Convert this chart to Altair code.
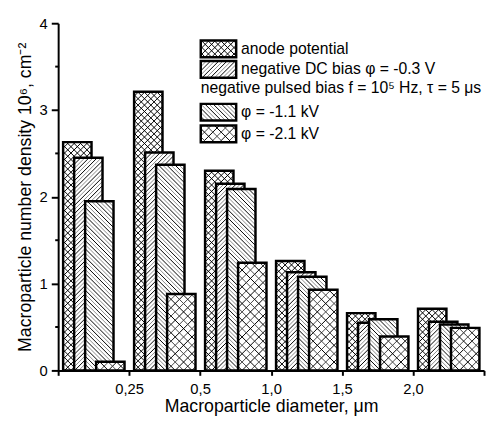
import math
import altair as alt
import pandas as pd

# ---------------- data ----------------
tick_labels = ["0,25", "0,5", "1,0", "1,5", "2,0"]
series_names = [
    "anode potential",
    "negative DC bias φ = -0.3 V",
    "φ = -1.1 kV",
    "φ = -2.1 kV",
]
anode = [2.63, 3.21, 2.30, 1.26, 0.66, 0.71]
dc_bias = [2.45, 2.51, 2.15, 1.13, 0.55, 0.56]
pulsed_11 = [1.95, 2.37, 2.09, 1.08, 0.59, 0.53]
pulsed_21 = [0.10, 0.88, 1.24, 0.93, 0.39, 0.49]
pulsed_header = "negative pulsed bias f = 10⁵ Hz, τ = 5 μs"
x_title = "Macroparticle diameter, μm"
y_title = "Macroparticle number density 10⁶, cm⁻²"
y_major = [0, 1, 2, 3, 4]
y_minor = [0.5, 1.5, 2.5, 3.5]

series_values = [anode, dc_bias, pulsed_11, pulsed_21]

# ---------------- layout / style ----------------
FONT = "Liberation Sans"
W, H = 433, 353
XMAX, YMAX = 6, 4
PX_X = W / XMAX
PX_Y = H / YMAX
PLOT_LEFT, PLOT_BOTTOM = 59, 373          # page pixels of plot origin
BAR_LEFT, BAR_W, BAR_STEP = 0.07, 0.4, 0.155
GRAY = "#8c8c8c"

# hatch styles per series: list of (direction, spacing px, colours)
hatches = [
    [("/", 6.5, ["black"]), ("\\", 6.5, ["black"])],
    [("/", 4.2, ["black", GRAY])],
    [("\\", 4.2, ["black", GRAY])],
    [("/", 8.5, ["black", "#444"]), ("\\", 8.5, ["black", "#444"])],
]


def hatch_segments(x0, x1, y0, y1, styles):
    """Hatch lines clipped to a data-space rectangle, 45deg in screen space."""
    u0, u1 = x0 * PX_X, x1 * PX_X
    v0, v1 = y0 * PX_Y, y1 * PX_Y
    rows = []
    for direction, step, colors in styles:
        if direction == "/":
            kmin = math.ceil((v0 - u1) / step)
            kmax = math.floor((v1 - u0) / step)
            for k in range(kmin, kmax + 1):
                c = k * step
                ua, ub = max(u0, v0 - c), min(u1, v1 - c)
                if ub - ua > 0.3:
                    rows.append(dict(x=ua / PX_X, y=(ua + c) / PX_Y,
                                     x2=ub / PX_X, y2=(ub + c) / PX_Y,
                                     col=colors[k % len(colors)]))
        else:
            kmin = math.ceil((v0 + u0) / step)
            kmax = math.floor((v1 + u1) / step)
            for k in range(kmin, kmax + 1):
                c = k * step
                ua, ub = max(u0, c - v1), min(u1, c - v0)
                if ub - ua > 0.3:
                    rows.append(dict(x=ua / PX_X, y=(c - ua) / PX_Y,
                                     x2=ub / PX_X, y2=(c - ub) / PX_Y,
                                     col=colors[k % len(colors)]))
    return rows


xscale = alt.Scale(domain=[0, XMAX], nice=False, zero=False)
yscale = alt.Scale(domain=[0, YMAX], nice=False, zero=False)

x_label_expr = "[" + ",".join(repr(s) for s in [""] + tick_labels + [""]) + "][datum.value]"

x_axis = alt.Axis(values=list(range(XMAX + 1)), labelExpr=x_label_expr, title=x_title,
                  labelOverlap=False, labelFlush=False, titlePadding=2, labelPadding=6,
                  tickSize=5, labelFontSize=15, titleFontSize=18)
y_axis = alt.Axis(values=y_major, format="d", title=y_title, labelOverlap=False,
                  labelFlush=False, titlePadding=5, labelPadding=4, tickSize=7,
                  labelFontSize=15, titleFontSize=18)


def X(field):
    return alt.X(field, scale=xscale, axis=x_axis)


def Y(field):
    return alt.Y(field, scale=yscale, axis=y_axis)


def rect_layers(rects, styles, stroke_width):
    df = pd.DataFrame(rects)
    fill = alt.Chart(df).mark_rect(fill="white", strokeWidth=0).encode(
        x=X("x0:Q"), x2="x1:Q", y=Y("y0:Q"), y2="y1:Q",
    )
    segs = []
    for r in rects:
        segs += hatch_segments(r["x0"], r["x1"], r["y0"], r["y1"], styles)
    hatch = alt.Chart(pd.DataFrame(segs)).mark_rule(strokeWidth=1).encode(
        x=X("x:Q"), y=Y("y:Q"), x2="x2:Q", y2="y2:Q",
        color=alt.Color("col:N", scale=None),
    )
    outline = alt.Chart(df).mark_rect(filled=False, stroke="black",
                                      strokeWidth=stroke_width).encode(
        x=X("x0:Q"), x2="x1:Q", y=Y("y0:Q"), y2="y1:Q",
    )
    return [fill, hatch, outline]


layers = []
for k, vals in enumerate(series_values):
    rects = []
    for g, v in enumerate(vals):
        x0 = g + BAR_LEFT + k * BAR_STEP
        rects.append(dict(x0=x0, x1=x0 + BAR_W, y0=0.0, y1=v))
    layers += rect_layers(rects, hatches[k], 2.5)

# minor y ticks (tiny marks on the axis line)
layers.append(
    alt.Chart(pd.DataFrame({"m": y_minor})).mark_rule(color="black", strokeWidth=2).encode(
        y=Y("m:Q"), x=alt.value(-3), x2=alt.value(1),
    )
)

# ---------------- legend ----------------
SW_X0, SW_X1 = 204, 240           # page pixels
SW_TOPS = [37.5, 58.5, 102, 124]
SW_H = 17
TEXT_X = 245
HEADER_Y, HEADER_X = 86, 204


def to_dx(px):
    return (px - PLOT_LEFT) / PX_X


def to_dy(py):
    return (PLOT_BOTTOM - py) / PX_Y


for k, top in enumerate(SW_TOPS):
    r = dict(x0=to_dx(SW_X0), x1=to_dx(SW_X1), y0=to_dy(top + SW_H), y1=to_dy(top))
    layers += rect_layers([r], hatches[k], 2.5)

legend_text = pd.DataFrame(
    [dict(x=to_dx(TEXT_X), y=to_dy(t + SW_H / 2), label=series_names[k])
     for k, t in enumerate(SW_TOPS)]
    + [dict(x=to_dx(HEADER_X), y=to_dy(HEADER_Y), label=pulsed_header)]
)
layers.append(
    alt.Chart(legend_text).mark_text(align="left", baseline="middle", font=FONT,
                                     fontSize=16, color="black").encode(
        x=X("x:Q"), y=Y("y:Q"), text="label:N",
    )
)

chart = alt.layer(*layers).properties(
    width=W,
    height=H,
    autosize=alt.AutoSizeParams(type="none"),
    padding={"left": 51, "top": 12, "right": 2, "bottom": 50},
).configure_view(stroke=None).configure_axis(
    grid=False,
    domainColor="black",
    domainWidth=2,
    tickColor="black",
    tickWidth=2,
    labelFont=FONT,
    labelColor="black",
    titleFont=FONT,
    titleFontWeight="normal",
    titleColor="black",
)

chart.save("out.html", embed_options={"renderer": "svg", "actions": False})
